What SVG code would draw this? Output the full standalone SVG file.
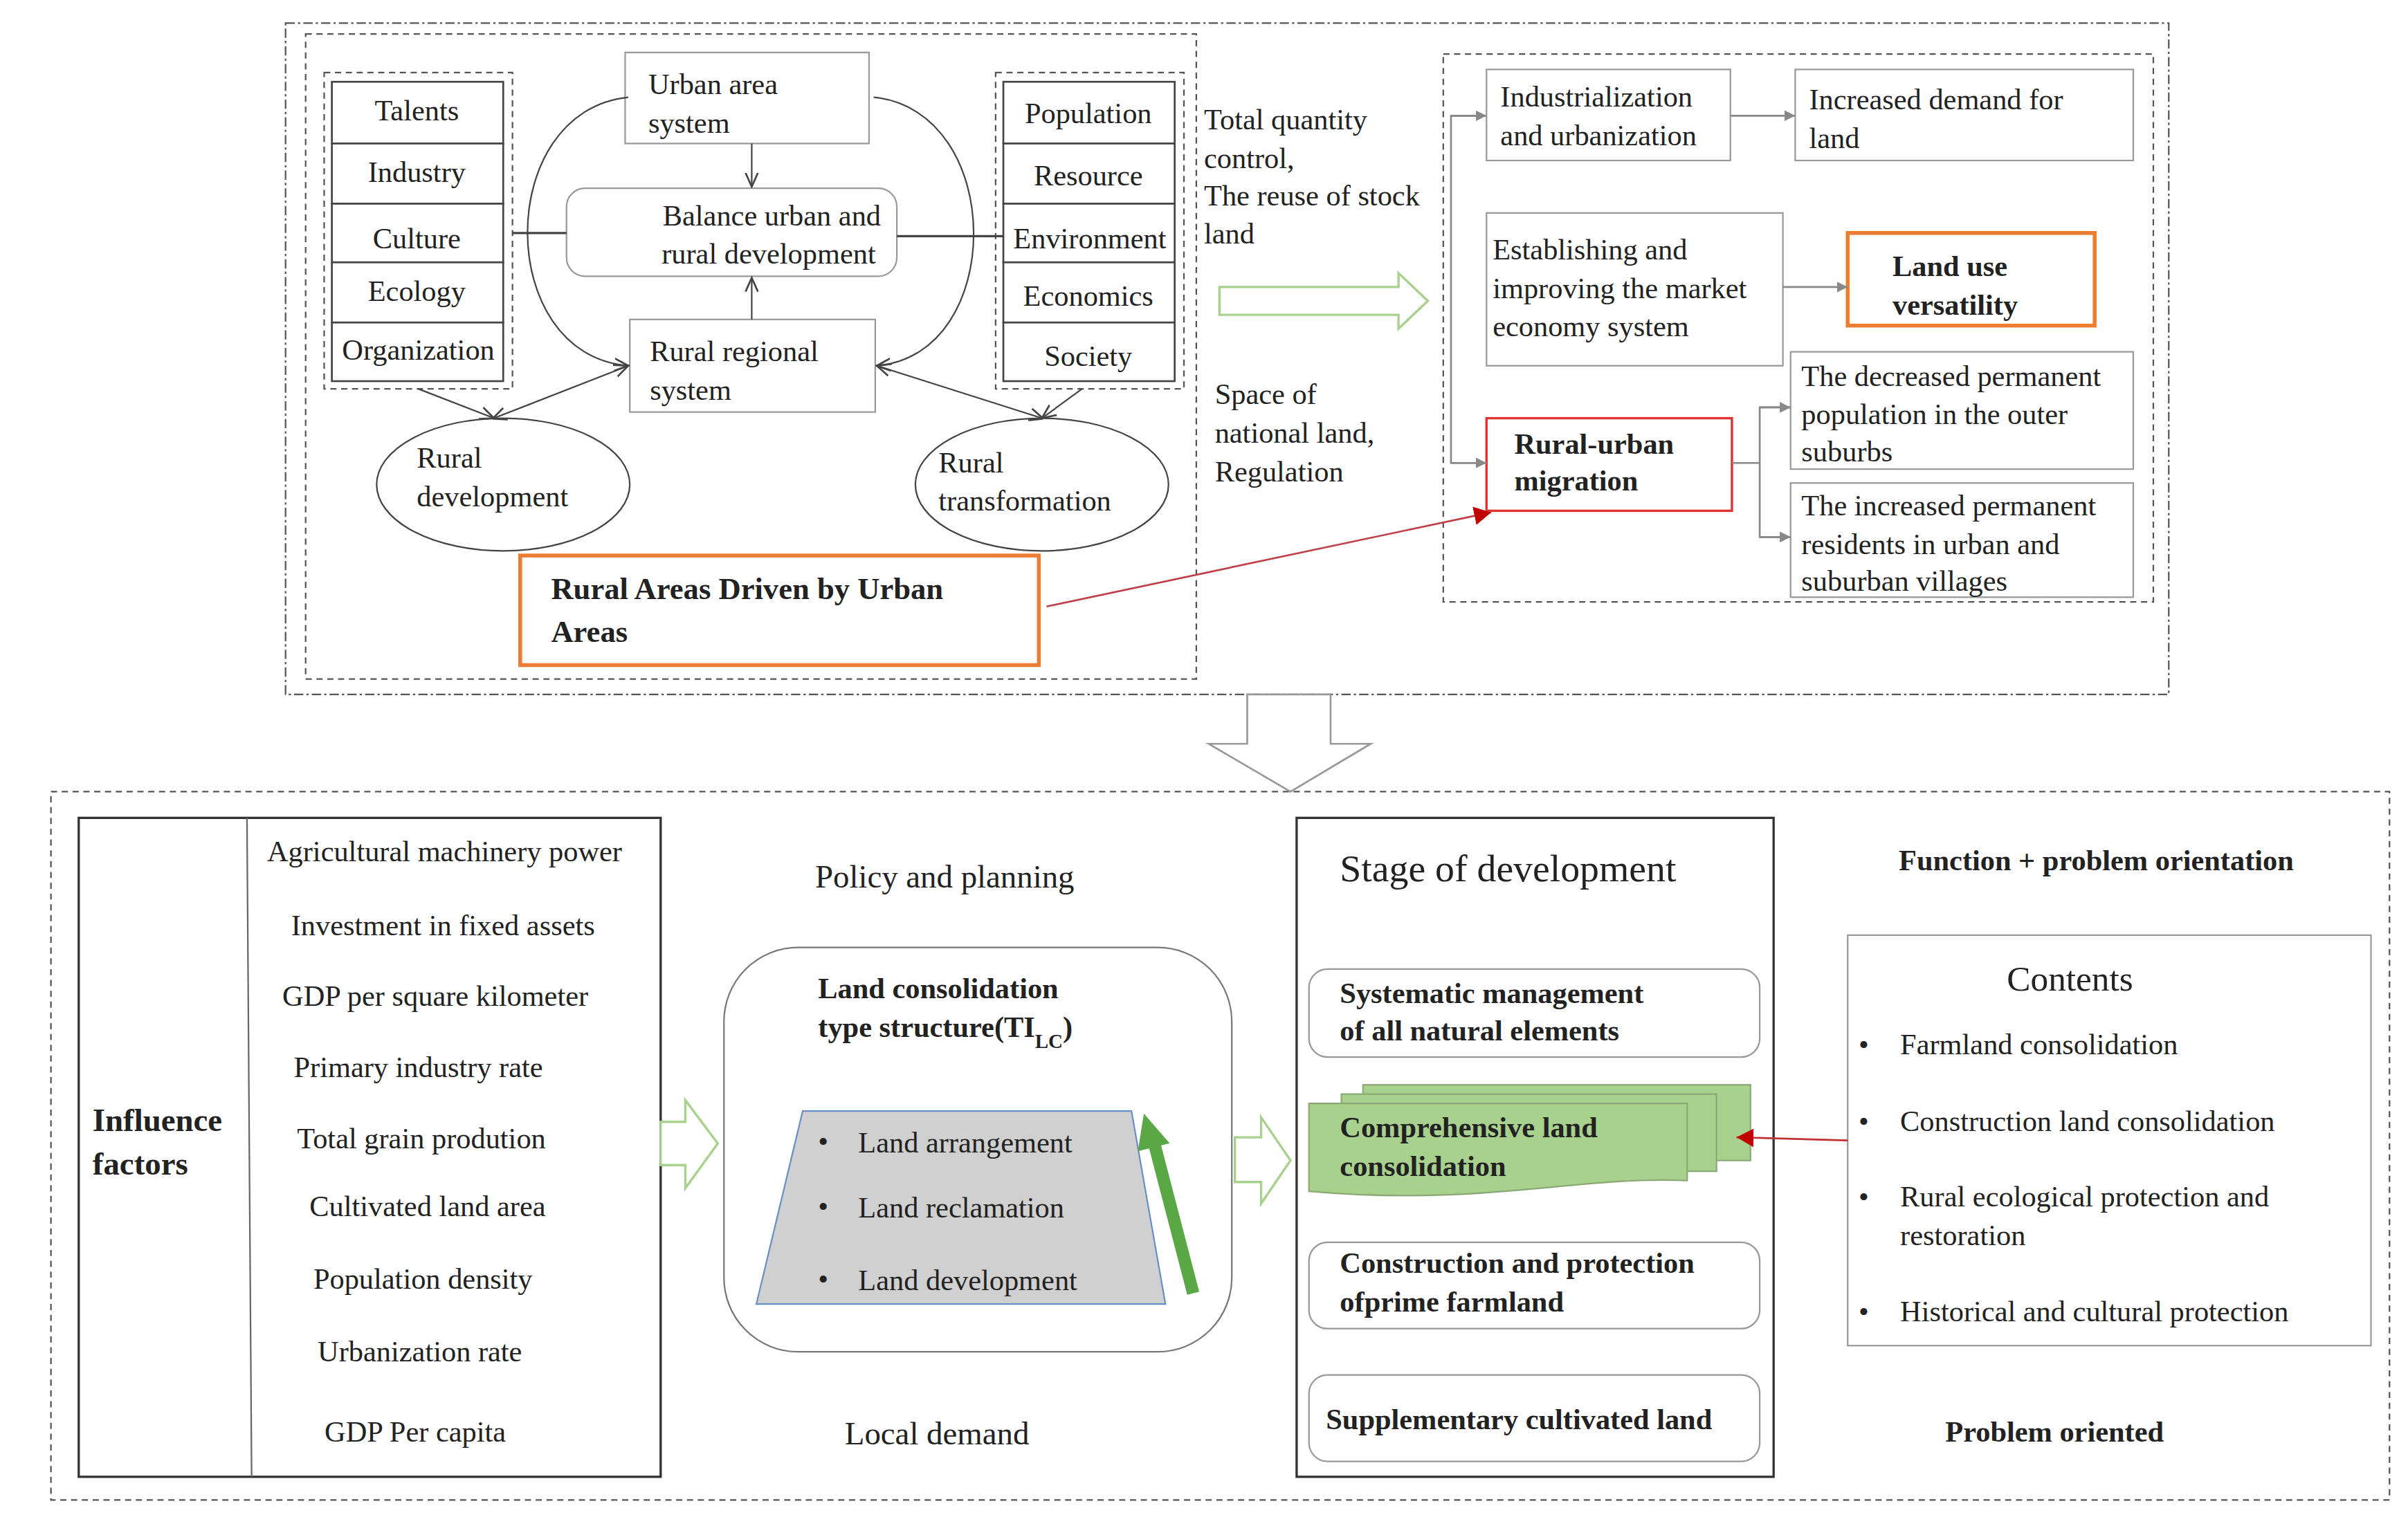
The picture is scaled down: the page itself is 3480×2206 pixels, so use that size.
<svg xmlns="http://www.w3.org/2000/svg" width="3480" height="2206" viewBox="0 0 3480 2206">
<style>
text{font-family:"Liberation Serif","Times New Roman",serif;font-size:19px;fill:#222}
.b{font-weight:bold}
.c{text-anchor:middle}
.box{fill:#fff;stroke:#999;stroke-width:1}
.dk{fill:#fff;stroke:#444;stroke-width:1.2}
.dash{fill:none;stroke:#555;stroke-width:1;stroke-dasharray:4 3}
.dd{fill:none;stroke:#555;stroke-width:1;stroke-dasharray:6 2 1.5 2}
.ln{fill:none;stroke:#444;stroke-width:1}
.gl{fill:none;stroke:#888;stroke-width:1.2}
</style>
<defs>
<marker id="ak" markerWidth="10" markerHeight="10" refX="9" refY="5" orient="auto" markerUnits="userSpaceOnUse"><path d="M0,1 L9,5 L0,9" fill="none" stroke="#444" stroke-width="1.2"/></marker>
<marker id="aks" markerWidth="10" markerHeight="10" refX="1" refY="5" orient="auto" markerUnits="userSpaceOnUse"><path d="M9,1 L0,5 L9,9" fill="none" stroke="#444" stroke-width="1.2"/></marker>
<marker id="ag" markerWidth="8" markerHeight="8" refX="7" refY="4" orient="auto" markerUnits="userSpaceOnUse"><path d="M0,0.5 L7,4 L0,7.5Z" fill="#888"/></marker>
<marker id="ar" markerWidth="12" markerHeight="12" refX="11" refY="6" orient="auto" markerUnits="userSpaceOnUse"><path d="M0,0 L11,6 L0,12Z" fill="#c00000"/></marker>
</defs>
<rect width="3480" height="2206" fill="#fff"/>
<g transform="scale(2.2308)">
<rect class="dd" x="185" y="15" width="1220" height="435"/>
<rect class="dash" x="198" y="22" width="577" height="418"/>
<rect class="dash" x="935" y="35" width="460" height="355"/>
<rect class="dash" x="33" y="513" width="1515" height="459"/>

<g id="left-attrs">
<rect class="dash" x="210" y="47" width="122" height="205"/>
<rect class="dk" x="215" y="53" width="111" height="40"/><text class="c" x="270" y="78">Talents</text>
<rect class="dk" x="215" y="93" width="111" height="39"/><text class="c" x="270" y="118">Industry</text>
<rect class="dk" x="215" y="132" width="111" height="38"/><text class="c" x="270" y="161">Culture</text>
<rect class="dk" x="215" y="170" width="111" height="39"/><text class="c" x="270" y="195">Ecology</text>
<rect class="dk" x="215" y="209" width="111" height="38"/><text class="c" x="271" y="233">Organization</text>
</g>
<g id="right-attrs">
<rect class="dash" x="645" y="47" width="122" height="205"/>
<rect class="dk" x="650" y="53" width="111" height="40"/><text class="c" x="705" y="80">Population</text>
<rect class="dk" x="650" y="93" width="111" height="39"/><text class="c" x="705" y="120">Resource</text>
<rect class="dk" x="650" y="132" width="111" height="38"/><text class="c" x="706" y="161">Environment</text>
<rect class="dk" x="650" y="170" width="111" height="39"/><text class="c" x="705" y="198">Economics</text>
<rect class="dk" x="650" y="209" width="111" height="38"/><text class="c" x="705" y="237">Society</text>
</g>
<g id="urban"><rect class="box" x="405" y="34" width="158" height="59"/><text x="420" y="61">Urban area</text><text x="420" y="86">system</text></g>
<g id="balance"><rect class="box" x="367" y="122" width="214" height="57" rx="12" stroke="#555"/><text class="c" x="500" y="146">Balance urban and</text><text class="c" x="498" y="171">rural development</text></g>
<g id="rural-sys"><rect class="box" x="408" y="207" width="159" height="60"/><text x="421" y="234">Rural regional</text><text x="421" y="259">system</text></g>
<g id="rural-dev"><ellipse cx="326" cy="314" rx="82" ry="43" fill="#fff" stroke="#444"/><text x="270" y="303">Rural</text><text x="270" y="328">development</text></g>
<g id="rural-trans"><ellipse cx="675" cy="314" rx="82" ry="43" fill="#fff" stroke="#444"/><text x="608" y="306">Rural</text><text x="608" y="331">transformation</text></g>
<g id="driven"><rect x="337" y="360" width="336" height="71" fill="#fff" stroke="#ed7d31" stroke-width="2.5"/><text class="b" x="357" y="388" style="font-size:20px">Rural Areas Driven by Urban</text><text class="b" x="357" y="416" style="font-size:20px">Areas</text></g>

<g id="mid-texts">
<text x="780" y="84">Total quantity</text><text x="780" y="109">control,</text><text x="780" y="133">The reuse of stock</text><text x="780" y="158">land</text>
<text x="787" y="262">Space of</text><text x="787" y="287">national land,</text><text x="787" y="312">Regulation</text>
</g>

<g id="indus"><rect class="box" x="963" y="45" width="158" height="59"/><text x="972" y="69">Industrialization</text><text x="972" y="94">and urbanization</text></g>
<g id="demand"><rect class="box" x="1163" y="45" width="219" height="59"/><text x="1172" y="71">Increased demand for</text><text x="1172" y="96">land</text></g>
<g id="market"><rect class="box" x="963" y="138" width="192" height="99"/><text x="967" y="168">Establishing and</text><text x="967" y="193">improving the market</text><text x="967" y="218">economy system</text></g>
<g id="versatility"><rect x="1197" y="151" width="160" height="60" fill="#fff" stroke="#ed7d31" stroke-width="2.5"/><text class="b" x="1226" y="179">Land use</text><text class="b" x="1226" y="204">versatility</text></g>
<g id="migration"><rect x="963" y="271" width="159" height="60" fill="#fff" stroke="#e03030" stroke-width="1.5"/><text class="b" x="981" y="294">Rural-urban</text><text class="b" x="981" y="318">migration</text></g>
<g id="decreased"><rect class="box" x="1160" y="228" width="222" height="76"/><text x="1167" y="250">The decreased permanent</text><text x="1167" y="275">population in the outer</text><text x="1167" y="299">suburbs</text></g>
<g id="increased"><rect class="box" x="1160" y="313" width="222" height="74"/><text x="1167" y="334">The increased permanent</text><text x="1167" y="359">residents in urban and</text><text x="1167" y="383">suburban villages</text></g>

<g id="influence">
<rect x="51" y="530" width="377" height="427" fill="#fff" stroke="#333" stroke-width="1.5"/>
<line x1="160" y1="530" x2="163" y2="957" stroke="#666" stroke-width="1"/>
<text class="b" x="60" y="733" style="font-size:21px">Influence</text><text class="b" x="60" y="761" style="font-size:21px">factors</text>
<text class="c" x="288" y="558">Agricultural machinery power</text>
<text class="c" x="287" y="606">Investment in fixed assets</text>
<text class="c" x="282" y="652">GDP per square kilometer</text>
<text class="c" x="271" y="698">Primary industry rate</text>
<text class="c" x="273" y="744">Total grain prodution</text>
<text class="c" x="277" y="788">Cultivated land area</text>
<text class="c" x="274" y="835">Population density</text>
<text class="c" x="272" y="882">Urbanization rate</text>
<text class="c" x="269" y="934">GDP Per capita</text>
</g>
<text class="c" x="612" y="575" style="font-size:21px">Policy and planning</text>
<text class="c" x="607" y="936" style="font-size:21px">Local demand</text>
<g id="ltype">
<rect x="469" y="614" width="329" height="262" rx="48" fill="#fff" stroke="#777" stroke-width="1"/>
<text class="b" x="530" y="647">Land consolidation</text>
<text class="b" x="530" y="672">type structure(TI<tspan baseline-shift="sub" style="font-size:13px">LC</tspan>)</text>
<polygon points="520,720 733,720 755,845 490,845" fill="#d0d0d0" stroke="#6a8fc8" stroke-width="1"/>
<text x="530" y="746">•</text><text x="556" y="747">Land arrangement</text>
<text x="530" y="788">•</text><text x="556" y="789">Land reclamation</text>
<text x="530" y="835">•</text><text x="556" y="836">Land development</text>
<line x1="773" y1="838" x2="748" y2="742" stroke="#5aa745" stroke-width="8"/>
<polygon points="739,744 742,725 755,740" fill="#5aa745" stroke="#5aa745" stroke-width="3"/>
</g>
<g id="stage">
<rect x="840" y="530" width="309" height="427" fill="#fff" stroke="#333" stroke-width="1.5"/>
<text x="868" y="571" style="font-size:25px">Stage of development</text>
<rect class="box" x="848" y="628" width="292" height="57" rx="12" stroke="#666"/><text class="b" x="868" y="650">Systematic management</text><text class="b" x="868" y="674">of all natural elements</text>
<rect x="883" y="703" width="251" height="49" fill="#a9d18e" stroke="#8aa876" stroke-width="1"/>
<rect x="869" y="709" width="243" height="50" fill="#a9d18e" stroke="#8aa876" stroke-width="1"/>
<path d="M848,715 H1093 V765 C1020,762 960,782 848,772 Z" fill="#a9d18e" stroke="#8aa876" stroke-width="1"/>
<text class="b" x="868" y="737">Comprehensive land</text><text class="b" x="868" y="762">consolidation</text>
<rect class="box" x="848" y="805" width="292" height="56" rx="12" stroke="#666"/><text class="b" x="868" y="825">Construction and protection</text><text class="b" x="868" y="850">ofprime farmland</text>
<rect class="box" x="848" y="891" width="292" height="56" rx="12" stroke="#666"/><text class="b" x="859" y="926">Supplementary cultivated land</text>
</g>
<text class="b c" x="1358" y="564">Function + problem orientation</text>
<text class="b c" x="1331" y="934">Problem oriented</text>
<g id="contents">
<rect class="box" x="1197" y="606" width="339" height="266"/>
<text class="c" x="1341" y="642" style="font-size:23px">Contents</text>
<text x="1204" y="683">•</text><text x="1231" y="683">Farmland consolidation</text>
<text x="1204" y="733">•</text><text x="1231" y="733">Construction land consolidation</text>
<text x="1204" y="782">•</text><text x="1231" y="782">Rural ecological protection and</text><text x="1231" y="807">restoration</text>
<text x="1204" y="856">•</text><text x="1231" y="856">Historical and cultural protection</text>
</g>

<g id="connectors">
<path class="ln" d="M407,63 C320,72 320,230 407,237" marker-end="url(#ak)"/>
<path class="ln" d="M566,63 C652,72 652,230 568,237" marker-end="url(#ak)"/>
<line class="ln" x1="487" y1="93" x2="487" y2="121" marker-end="url(#ak)"/>
<line class="ln" x1="487" y1="207" x2="487" y2="180" marker-end="url(#ak)"/>
<line x1="332" y1="151" x2="367" y2="151" stroke="#444" stroke-width="1.5"/>
<line x1="581" y1="153" x2="650" y2="153" stroke="#444" stroke-width="1.5"/>
<line class="ln" x1="271" y1="252" x2="320" y2="271" marker-end="url(#ak)"/>
<line class="ln" x1="320" y1="271" x2="407" y2="237" marker-start="url(#aks)" marker-end="url(#ak)"/>
<line class="ln" x1="701" y1="252" x2="675" y2="271" marker-end="url(#ak)"/>
<line class="ln" x1="675" y1="271" x2="568" y2="237" marker-start="url(#aks)" marker-end="url(#ak)"/>
<line x1="678" y1="393" x2="966" y2="332" stroke="#c0404a" stroke-width="1.2" marker-end="url(#ar)"/>
<path class="gl" d="M962,75 H940 V300 H962" />
<line class="gl" x1="940" y1="75" x2="963" y2="75" marker-end="url(#ag)"/>
<line class="gl" x1="940" y1="300" x2="963" y2="300" marker-end="url(#ag)"/>
<line class="gl" x1="1121" y1="75" x2="1163" y2="75" marker-end="url(#ag)"/>
<line class="gl" x1="1155" y1="186" x2="1197" y2="186" marker-end="url(#ag)"/>
<path class="gl" d="M1122,300 H1140 V348 H1160 M1140,300 V264 H1160"/>
<line class="gl" x1="1140" y1="264" x2="1160" y2="264" marker-end="url(#ag)"/>
<line class="gl" x1="1140" y1="348" x2="1160" y2="348" marker-end="url(#ag)"/>
<line x1="1197" y1="739" x2="1125" y2="737" stroke="#c03030" stroke-width="1.2" marker-end="url(#ar)"/>
<polygon points="790,186 906,186 906,177 925,195 906,213 906,204 790,204" fill="#fff" stroke="#a9d18e" stroke-width="1.5"/>
<polygon points="428,727 444,727 444,713 465,741 444,770 444,755 428,755" fill="#fff" stroke="#a9d18e" stroke-width="1.5"/>
<polygon points="800,737 817,737 817,724 836,752 817,780 817,766 800,766" fill="#fff" stroke="#a9d18e" stroke-width="1.5"/>
<polygon points="808,450 862,450 862,482 888,482 836,513 783,482 808,482" fill="#fff" stroke="#999" stroke-width="1.2"/>
</g>
</g>
</svg>
